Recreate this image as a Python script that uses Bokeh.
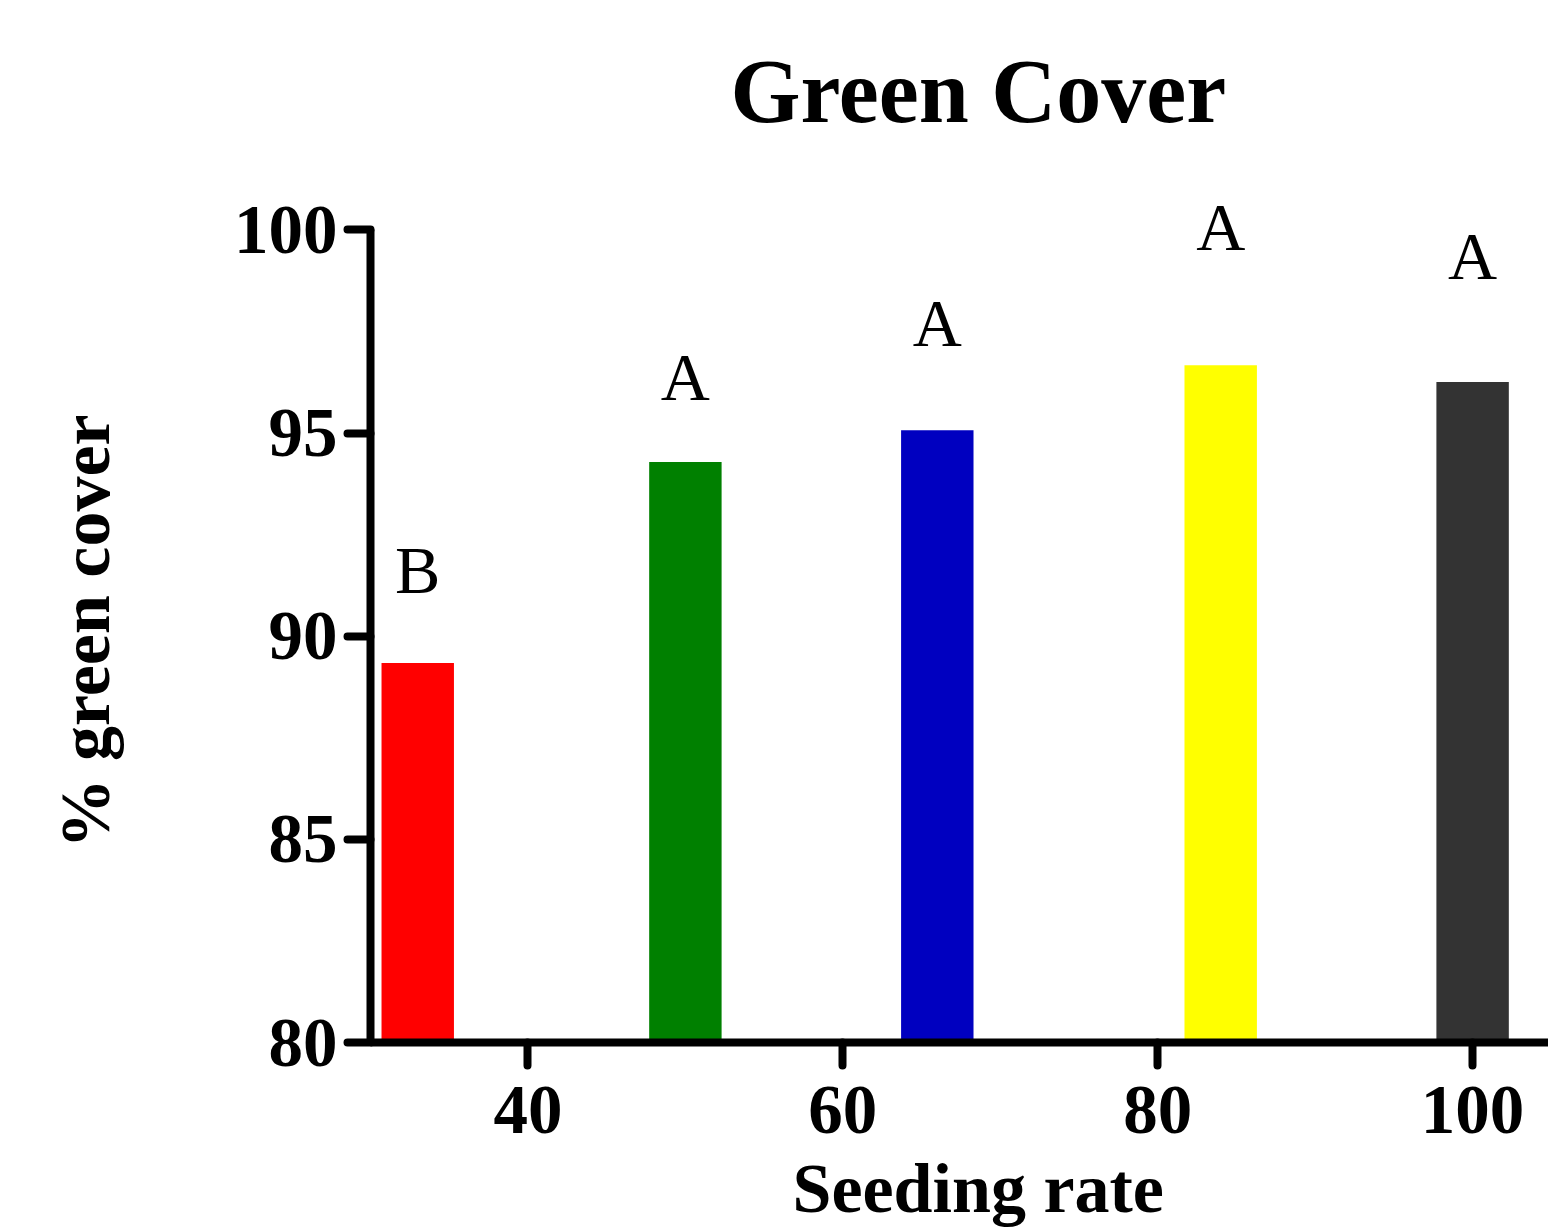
from bokeh.plotting import figure
from bokeh.models import Range1d, FixedTicker, ColumnDataSource, Title, LinearAxis
from bokeh.core.properties import value
from bokeh.embed import file_html
from bokeh.resources import INLINE

# ---- data ----
seeding_rate = [33, 50, 66, 84, 100]
green_cover = [89.34, 94.29, 95.07, 96.67, 96.26]
letter_y = [91.63, 96.38, 97.71, 100.07, 99.37]
letters = ["B", "A", "A", "A", "A"]
bar_colors = ["#FF0000", "#008000", "#0000C0", "#FFFF00", "#333333"]
x_ticks = [40, 60, 80, 100]
y_ticks = [80, 85, 90, 95, 100]

FONT = "Liberation Serif"

src = ColumnDataSource(dict(x=seeding_rate, top=green_cover, ly=letter_y,
                            lab=letters, color=bar_colors))

p = figure(width=1548, height=1230, output_backend="svg", toolbar_location=None,
           x_range=Range1d(30, 104.82), y_range=Range1d(80, 100.726),
           min_border_left=370, min_border_right=0,
           min_border_top=200, min_border_bottom=188,
           title=None)

p.vbar(x="x", top="top", bottom=80, width=4.6, fill_color="color",
       line_color=None, source=src)
p.text(x="x", y="ly", text="lab", source=src, text_align="center",
       text_baseline="middle", text_font=value(FONT), text_font_size="68px",
       text_color="black")

p.xgrid.visible = False
p.ygrid.visible = False
p.outline_line_color = None

p.xaxis.ticker = FixedTicker(ticks=x_ticks)
p.yaxis.ticker = FixedTicker(ticks=y_ticks)
p.yaxis.bounds = (80, 100)

for ax in (p.xaxis, p.yaxis):
    ax.axis_line_width = 8
    ax.axis_line_color = "black"
    ax.major_tick_line_width = 8
    ax.major_tick_line_color = "black"
    ax.major_tick_line_cap = "round"
    ax.major_tick_out = 23
    ax.major_tick_in = 0
    ax.minor_tick_line_color = None
    ax.major_label_text_font = FONT
    ax.major_label_text_font_size = "69px"
    ax.major_label_text_font_style = "bold"
    ax.major_label_text_color = "black"

p.xaxis.major_label_standoff = 21
p.yaxis.major_label_standoff = 10


def spacer(size, at):
    # blank axis (one white hair-line tick in an empty area, blank label)
    # used only to reserve space in a side panel
    return LinearAxis(ticker=FixedTicker(ticks=[at], minor_ticks=[]),
                      axis_line_color=None,
                      major_tick_line_color="white", major_tick_line_width=1,
                      major_tick_out=size, major_tick_in=0,
                      minor_tick_line_color=None, minor_tick_out=0,
                      minor_tick_in=0, major_label_standoff=0,
                      major_label_overrides={at: ""},
                      major_label_text_font_size="1px",
                      major_label_text_color="white")


def label(text, size, **kw):
    return Title(text=text, text_font=FONT, text_font_size=size,
                 text_font_style="bold", text_color="black", standoff=0, **kw)


# chart title
p.add_layout(spacer(60, 30.5), "above")
p.add_layout(label("Green Cover", "90px", align="left", offset=360,
                   vertical_align="bottom"), "above")

# y axis title
p.add_layout(spacer(107, 81), "left")
p.add_layout(label("% green cover", "70px", align="left", offset=194,
                   vertical_align="bottom"), "left")

# x axis title
p.add_layout(spacer(14, 31), "below")
p.add_layout(label("Seeding rate", "70px", align="left", offset=422,
                   vertical_align="top"), "below")

open("out.html", "w").write(file_html(p, INLINE))
